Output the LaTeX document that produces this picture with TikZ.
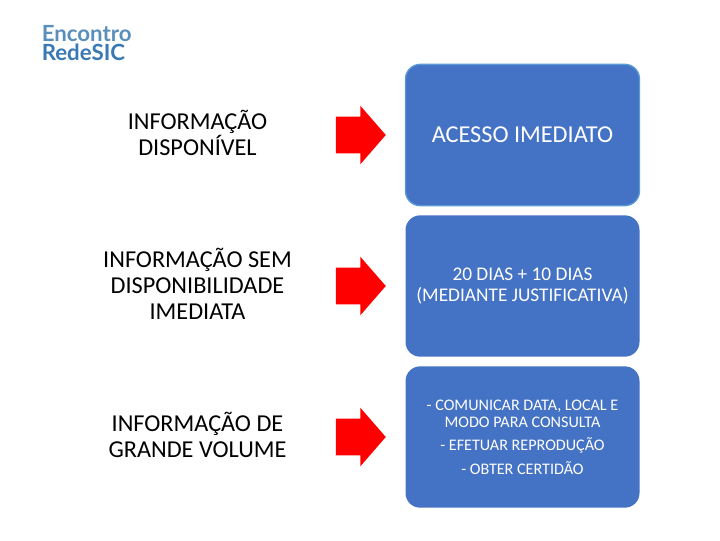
\documentclass[tikz,border=0pt]{standalone}
\usepackage{fontspec}
\setmainfont{Carlito}
\newfontfamily\logofont{Lato}
\usetikzlibrary{positioning,shapes.arrows}
\definecolor{boxblue}{HTML}{4472C4}
\definecolor{boxedge}{HTML}{5B9BD5}
\definecolor{logolight}{HTML}{5A8FBC}
\definecolor{logodark}{HTML}{3B79B4}

\begin{document}
\begin{tikzpicture}[x=0.75pt,y=-0.75pt,node distance=127.25pt,
                    info box/.style={rounded corners=11pt,fill=boxblue,text=white,align=center,
                      minimum width=175.5pt,minimum height=106pt,inner sep=0pt},
                    red arrow/.style={single arrow,fill=red,draw=none,inner xsep=0pt,inner ysep=13.5pt,
                      minimum height=37.5pt,minimum width=43.5pt,
                      single arrow head extend=8.25pt,single arrow tip angle=98},
                    info label/.style={align=center,yshift=1.5pt,font=\fontsize{18.2pt}{19.5pt}\selectfont},
                    logo text/.style={anchor=base west,inner sep=0pt,font=\logofont\bfseries\fontsize{16.7pt}{16.7pt}\selectfont}]

   \useasboundingbox (0,0) rectangle (720,540);

   \node[logo text,text=logolight] (logo1) at (41.5,41) {Encontro};
   \node[logo text,text=logodark] (logo2) at (41.5,60) {RedeSIC};

   \node[info box,draw=boxedge,line width=1pt,font=\fontsize{18.2pt}{19pt}\selectfont] (box1) at (522.5,135) {ACESSO IMEDIATO};
   \node[info box,font=\fontsize{14.5pt}{16pt}\selectfont] (box2) at (522.5,286) {20 DIAS + 10 DIAS\\(MEDIANTE JUSTIFICATIVA)};
   \node[info box,font=\fontsize{12.1pt}{13pt}\selectfont] (box3) at (522.5,437) {- COMUNICAR DATA, LOCAL E\\MODO PARA CONSULTA\\[4.5pt]- EFETUAR REPRODUÇÃO\\[4.5pt]- OBTER CERTIDÃO};

   \node[red arrow,left of=box1] (arrow1) {};
   \node[red arrow,left of=box2] (arrow2) {};
   \node[red arrow,left of=box3] (arrow3) {};

   \node[info label,left of=arrow1,node distance=116.5pt] (label1) {INFORMAÇÃO\\DISPONÍVEL};
   \node[info label,left of=arrow2,node distance=116.5pt] (label2) {INFORMAÇÃO SEM\\DISPONIBILIDADE\\IMEDIATA};
   \node[info label,left of=arrow3,node distance=116.5pt] (label3) {INFORMAÇÃO DE\\GRANDE VOLUME};

\end{tikzpicture}
\end{document}
